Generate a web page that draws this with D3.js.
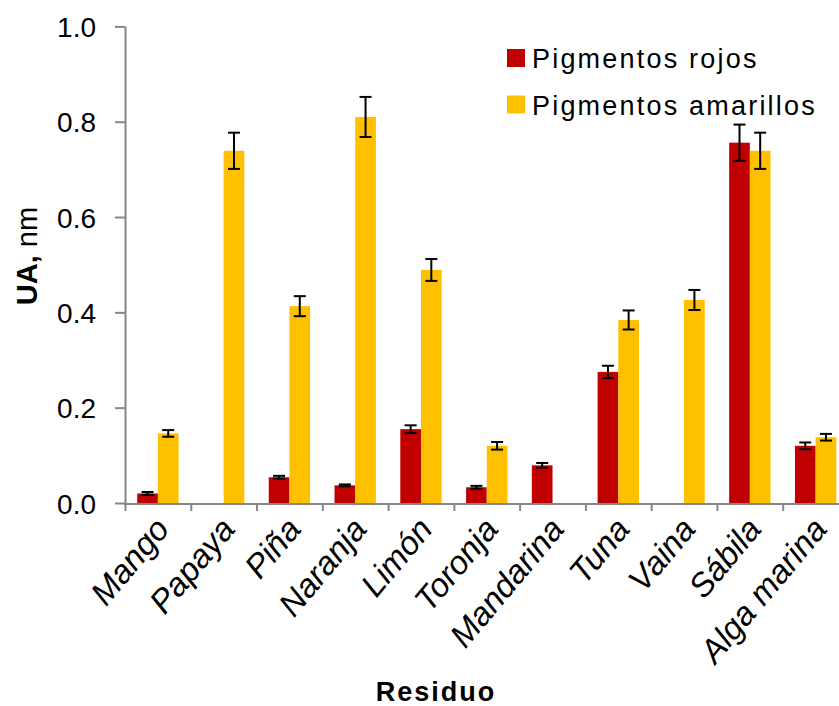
<!DOCTYPE html>
<html>
<head>
<meta charset="utf-8">
<script src="https://cdn.jsdelivr.net/npm/d3@7/dist/d3.min.js"></script>
<style>
  html, body { margin: 0; padding: 0; background: #fff; }
  svg { display: block; font-family: "Liberation Sans", Arial, sans-serif; }
</style>
</head>
<body>
<svg id="chart" width="839" height="706"></svg>
<script>
// Residue categories and pigment absorbance (UA, nm) with standard deviations
const categories = ["Mango", "Papaya", "Piña", "Naranja", "Limón", "Toronja",
                    "Mandarina", "Tuna", "Vaina", "Sábila", "Alga marina"];
const rojos        = [0.020, null, 0.054, 0.037, 0.155, 0.033, 0.079, 0.275, null, 0.756, 0.120];
const rojosErr     = [0.003, null, 0.003, 0.002, 0.008, 0.003, 0.005, 0.013, null, 0.038, 0.007];
const amarillos    = [0.146, 0.739, 0.413, 0.810, 0.489, 0.120, null, 0.384, 0.426, 0.739, 0.138];
const amarillosErr = [0.007, 0.038, 0.021, 0.042, 0.023, 0.008, null, 0.020, 0.021, 0.038, 0.007];
const seriesNames  = ["Pigmentos rojos", "Pigmentos amarillos"];
const seriesColors = ["#C00000", "#FFC000"];
const yTicks = [0, 0.2, 0.4, 0.6, 0.8, 1.0];

const series = [
  { name: seriesNames[0], values: rojos, errors: rojosErr, color: seriesColors[0] },
  { name: seriesNames[1], values: amarillos, errors: amarillosErr, color: seriesColors[1] }
];

const svg = d3.select("#chart");
const axisColor = "#868686";

const x = d3.scaleBand().domain(categories).range([125, 848.5]).padding(0);
const xs = d3.scaleBand().domain(seriesNames).range([0, x.bandwidth()])
  .paddingInner(0).paddingOuter(0.59);
const y = d3.scaleLinear().domain([0, 1]).range([503, 26.4]);

// Bars
const groups = svg.append("g").selectAll("g")
  .data(series).join("g").attr("fill", d => d.color);

groups.selectAll("rect")
  .data(s => categories.map((c, i) => ({ c, v: s.values[i], e: s.errors[i], s: s.name }))
    .filter(d => d.v != null))
  .join("rect")
  .attr("x", d => x(d.c) + xs(d.s))
  .attr("width", xs.bandwidth())
  .attr("y", d => y(d.v))
  .attr("height", d => y(0) - y(d.v));

// Error bars
const errData = [];
series.forEach(s => categories.forEach((c, i) => {
  if (s.values[i] != null) errData.push({ c, s: s.name, v: s.values[i], e: s.errors[i] });
}));
const eg = svg.append("g").attr("stroke", "#000").attr("stroke-width", 2).attr("fill", "none");
const capHalf = 6;
errData.forEach(d => {
  const cx = x(d.c) + xs(d.s) + xs.bandwidth() / 2;
  const y1 = y(d.v + d.e), y2 = y(d.v - d.e);
  eg.append("line").attr("x1", cx).attr("x2", cx).attr("y1", y1).attr("y2", y2);
  eg.append("line").attr("x1", cx - capHalf).attr("x2", cx + capHalf).attr("y1", y1).attr("y2", y1);
  eg.append("line").attr("x1", cx - capHalf).attr("x2", cx + capHalf).attr("y1", y2).attr("y2", y2);
});

// Y axis
const yAxis = svg.append("g").attr("transform", "translate(125,0)")
  .call(d3.axisLeft(y).tickValues(yTicks).tickFormat(d3.format(".1f")).tickSize(10).tickPadding(19));
yAxis.select(".domain").attr("stroke", axisColor).attr("stroke-width", 2)
  .attr("d", `M0.5,${y(1)}V${y(0)}`);
yAxis.selectAll(".tick line").attr("stroke", axisColor).attr("stroke-width", 2);
yAxis.selectAll(".tick text").attr("fill", "#000").attr("font-size", 28)
  .attr("font-family", "Liberation Sans, Arial, sans-serif").attr("dy", "0.36em");

// X axis: line and boundary ticks between categories
const xg = svg.append("g");
xg.append("line").attr("x1", 124).attr("x2", 848.5).attr("y1", y(0) + 1).attr("y2", y(0) + 1)
  .attr("stroke", axisColor).attr("stroke-width", 2);
const bounds = categories.map(c => x(c)).concat([x.range()[1]]);
xg.selectAll("line.bt").data(bounds).join("line").attr("class", "bt")
  .attr("x1", d => d + 0.5).attr("x2", d => d + 0.5)
  .attr("y1", y(0) + 1).attr("y2", y(0) + 8)
  .attr("stroke", axisColor).attr("stroke-width", 2);

// Rotated category labels
xg.selectAll("text.cat").data(categories).join("text").attr("class", "cat")
  .attr("transform", d => `translate(${x(d) + x.bandwidth() / 2 + 13},${y(0) + 27}) rotate(-50)`)
  .attr("text-anchor", "end")
  .attr("font-size", 33).attr("font-style", "italic").attr("fill", "#000")
  .text(d => d);

// Axis titles
svg.append("text")
  .attr("x", 436).attr("y", 701)
  .attr("text-anchor", "middle").attr("font-size", 27).attr("font-weight", "bold")
  .attr("letter-spacing", 2)
  .text("Residuo");

const yt = svg.append("text")
  .attr("transform", "translate(37,256) rotate(-90)")
  .attr("text-anchor", "middle").attr("font-size", 29);
yt.append("tspan").attr("font-weight", "bold").text("UA,");
yt.append("tspan").text(" nm");

// Legend
const lg = svg.append("g");
series.forEach((s, i) => {
  const ly = 49 + i * 46.5;
  lg.append("rect").attr("x", 507).attr("y", ly).attr("width", 18).attr("height", 18).attr("fill", s.color);
  lg.append("text").attr("x", 532).attr("y", ly + 19)
    .attr("font-size", 27).attr("letter-spacing", 2.2).attr("fill", "#000").text(s.name);
});
</script>
</body>
</html>
